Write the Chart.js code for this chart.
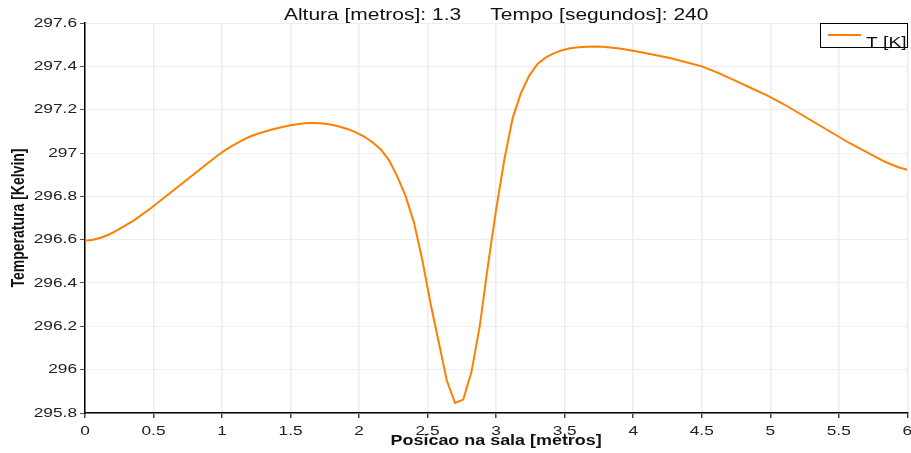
<!DOCTYPE html>
<html>
<head>
<meta charset="utf-8">
<script src="https://cdn.jsdelivr.net/npm/chart.js@4.4.1/dist/chart.umd.min.js"></script>
<style>
  html, body { margin: 0; padding: 0; background: #fff; }
  #wrap { width: 911px; height: 453px; }
</style>
</head>
<body>
<div id="wrap"><canvas id="perfil"></canvas></div>
<script>
// posicao ao longo da sala [m] e temperatura [K]
var posicao = [
  0, 0.06, 0.12, 0.18, 0.24, 0.36, 0.48, 0.6, 0.72, 0.84, 0.96, 1.02, 1.08, 1.14, 1.2, 1.26, 1.32, 1.38,
  1.44, 1.5, 1.56, 1.62, 1.68, 1.74, 1.8, 1.86, 1.92, 1.98, 2.04, 2.1,
  2.16, 2.22, 2.28, 2.34, 2.4, 2.46, 2.52, 2.58, 2.64, 2.7, 2.76, 2.82, 2.88, 2.94, 3.0, 3.06, 3.12, 3.18,
  3.24, 3.3, 3.36, 3.42, 3.48, 3.54, 3.6, 3.66, 3.72, 3.78, 3.9, 4.02, 4.14, 4.26, 4.38, 4.5, 4.62, 4.74,
  4.86, 4.98, 5.1, 5.22, 5.34, 5.46, 5.58, 5.7, 5.82, 5.88, 5.94, 6.0
];
var temperatura = [
  296.595, 296.6, 296.61, 296.625, 296.645, 296.69, 296.745, 296.805, 296.865, 296.925, 296.985, 297.012,
  297.035, 297.056, 297.075, 297.089, 297.1, 297.111, 297.12, 297.128, 297.134, 297.138, 297.139, 297.136,
  297.13, 297.121, 297.11, 297.094, 297.075, 297.048,
  297.015, 296.965, 296.89, 296.8, 296.68, 296.51, 296.31, 296.13, 295.95, 295.846, 295.862, 295.99, 296.2,
  296.48, 296.74, 296.97, 297.16, 297.275, 297.355, 297.41, 297.44, 297.46, 297.474, 297.483, 297.488,
  297.49, 297.491, 297.49, 297.482, 297.47, 297.455, 297.44, 297.42, 297.4, 297.37, 297.335, 297.3,
  297.265, 297.225, 297.18, 297.135, 297.09, 297.045, 297.005, 296.965, 296.948, 296.933, 296.923
];
var serie = 'T [K]';
var titulo = 'Altura [metros]: 1.3     Tempo [segundos]: 240';

var pontos = posicao.map(function (x, i) { return { x: x, y: temperatura[i] }; });
var fonte = '"Liberation Sans", Arial, sans-serif';
var LARGURA = 1.28; // textos do grafico saem alargados na horizontal

// alarga todo texto na horizontal (em coordenadas de tela), em torno do ponto de ancoragem
var esticaTexto = {
  id: 'esticaTexto',
  beforeDraw: function (chart) {
    var ctx = chart.ctx;
    if (ctx._esticado) return;
    var original = ctx.fillText;
    ctx.fillText = function (txt, x, y) {
      var m = this.getTransform();
      var px = m.a * x + m.c * y + m.e;
      this.save();
      this.setTransform(new DOMMatrix([LARGURA, 0, 0, 1, px * (1 - LARGURA), 0]).multiply(m));
      original.call(this, txt, x, y);
      this.restore();
    };
    ctx._esticado = true;
  }
};

// titulo e legenda desenhados por cima da area do grafico
var extras = {
  id: 'extras',
  afterDraw: function (chart) {
    var ctx = chart.ctx, area = chart.chartArea;
    ctx.save();
    ctx.fillStyle = '#111';
    ctx.font = '16.4px ' + fonte;
    ctx.textAlign = 'center';
    ctx.textBaseline = 'middle';
    ctx.fillText(titulo, (area.left + area.right) / 2, 15);

    var bx = 820, by = 23, bw = 88, bh = 25;
    ctx.fillStyle = '#fff';
    ctx.fillRect(bx, by, bw, bh);
    ctx.strokeStyle = '#000';
    ctx.lineWidth = 1;
    ctx.strokeRect(bx + 0.5, by + 0.5, bw - 1, bh - 1);
    ctx.strokeStyle = '#ff8000';
    ctx.lineWidth = 2;
    ctx.beginPath();
    ctx.moveTo(828, 35);
    ctx.lineTo(861, 35);
    ctx.stroke();
    ctx.fillStyle = '#111';
    ctx.textAlign = 'left';
    ctx.textBaseline = 'alphabetic';
    ctx.font = '15px ' + fonte;
    ctx.fillText(serie, 866, 47);
    ctx.restore();
  }
};

new Chart(document.getElementById('perfil'), {
  type: 'line',
  data: {
    datasets: [{
      label: serie,
      data: pontos,
      borderColor: '#ff8000',
      borderWidth: 2,
      pointRadius: 0,
      tension: 0,
      fill: false
    }]
  },
  options: {
    responsive: true,
    maintainAspectRatio: false,
    animation: false,
    layout: { padding: { top: 23, right: 3.7, left: 0, bottom: 0 } },
    plugins: {
      legend: { display: false },
      title: { display: false },
      tooltip: { enabled: false }
    },
    scales: {
      x: {
        type: 'linear',
        min: 0,
        max: 6,
        ticks: {
          stepSize: 0.5,
          color: '#222',
          font: { family: fonte, size: 13.5 },
          padding: 5,
          maxRotation: 0,
          callback: function (v) { return String(+v.toFixed(1)); }
        },
        grid: { color: '#ededed', tickColor: '#444', tickLength: 5, lineWidth: 1.5 },
        border: { color: '#000', width: 1.5 },
        title: {
          display: true,
          text: 'Posicao na sala [metros]',
          color: '#111',
          font: { family: fonte, size: 14, weight: 'bold' },
          padding: { top: 0, bottom: 3 }
        },
        afterFit: function (s) { s.height = 40; s.paddingRight = 0; }
      },
      y: {
        min: 295.8,
        max: 297.6,
        ticks: {
          stepSize: 0.2,
          color: '#222',
          font: { family: fonte, size: 13.5 },
          padding: 3,
          callback: function (v) { return String(+v.toFixed(1)); }
        },
        grid: { color: '#ededed', tickColor: '#555', tickLength: 5, lineWidth: 1 },
        border: { color: '#000', width: 1.5 },
        title: {
          display: true,
          text: 'Temperatura [Kelvin]',
          color: '#111',
          font: { family: fonte, size: 14, weight: 'bold' },
          padding: { top: 11, bottom: 0 }
        },
        afterFit: function (s) { s.width = 85; }
      }
    }
  },
  plugins: [esticaTexto, extras]
});
</script>
</body>
</html>
